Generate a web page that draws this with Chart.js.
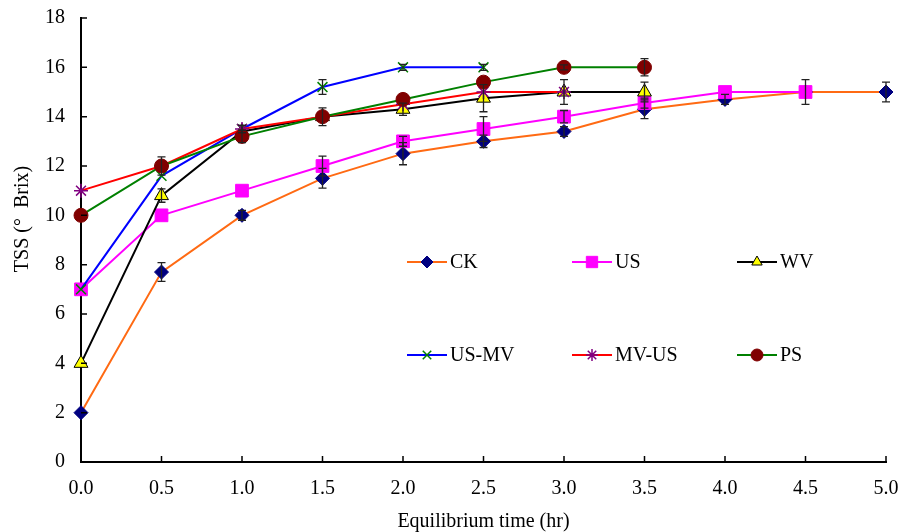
<!DOCTYPE html>
<html>
<head>
<meta charset="utf-8">
<script src="https://cdn.jsdelivr.net/npm/chart.js@4/dist/chart.umd.min.js"></script>
<style>
  body { margin: 0; background: #fff; }
  canvas { display: block; }
</style>
</head>
<body>
<canvas id="tssChart" width="911" height="532"></canvas>
<script>
// Equilibrium time (hr)
const times = [0, 0.5, 1.0, 1.5, 2.0, 2.5, 3.0, 3.5, 4.0, 4.5, 5.0];
const labels = ['CK', 'US', 'WV', 'US-MV', 'MV-US', 'PS'];
const yTitle = 'TSS (°  Brix)';

// TSS values
const ckValues   = [2.0, 7.7, 10.0, 11.5, 12.5, 13.0, 13.4, 14.3, 14.7, 15.0, 15.0];
const usValues   = [7.0, 10.0, 11.0, 12.0, 13.0, 13.5, 14.0, 14.55, 15.0, 15.0];
const wvValues   = [4.0, 10.8, 13.4, 14.0, 14.3, 14.75, 15.0, 15.0];
const usmvValues = [7.0, 11.6, 13.5, 15.2, 16.0, 16.0];
const mvusValues = [11.0, 12.0, 13.5, 14.0, 14.5, 15.0, 15.0];
const psValues   = [10.0, 12.0, 13.2, 14.0, 14.7, 15.4, 16.0, 16.0];

// error bar half-heights (0 = none visible)
const ckErr   = [0, 0.38, 0.2, 0.4, 0.45, 0.25, 0.2, 0.38, 0.2, 0, 0.4];
const usErr   = [0, 0, 0, 0.4, 0.2, 0.5, 0.25, 0.2, 0, 0.5];
const wvErr   = [0, 0.27, 0, 0, 0.25, 0.55, 0.5, 0.4];
const usmvErr = [0, 0, 0.15, 0.3, 0.12, 0.12];
const mvusErr = [0, 0, 0.15, 0, 0, 0, 0];
const psErr   = [0, 0.37, 0.25, 0.36, 0, 0, 0.1, 0.35];

const yTicks = [0, 2, 4, 6, 8, 10, 12, 14, 16, 18];

const serif = 'Liberation Serif';

function points(values) {
    return values.map((v, i) => ({ x: times[i], y: v }));
}

function makeSet(label, values, errs, lineColor, style, fill, border, radius, order) {
    return {
        label: label,
        data: points(values),
        errors: errs,
        borderColor: lineColor,
        borderWidth: 2,
        pointStyle: style,
        pointRadius: radius,
        pointBackgroundColor: fill,
        pointBorderColor: border,
        pointBorderWidth: style === 'crossRot' || style === 'star' ? 1.5 : 1,
        tension: 0,
        fill: false,
        clip: false,
        order: order
    };
}

const datasets = [
    makeSet(labels[0], ckValues, ckErr, '#FF6A13', 'rectRot', '#000080', '#000080', 7, 6),
    makeSet(labels[1], usValues, usErr, '#FF00FF', 'rect', '#FF00FF', '#FF00FF', 9, 5),
    makeSet(labels[2], wvValues, wvErr, '#000000', 'triangle', '#FFFF00', '#000000', 8, 4),
    makeSet(labels[3], usmvValues, usmvErr, '#0000FF', 'crossRot', '#008000', '#008000', 7, 3),
    makeSet(labels[4], mvusValues, mvusErr, '#FF0000', 'star', '#800080', '#800080', 7, 2),
    makeSet(labels[5], psValues, psErr, '#008000', 'circle', '#800000', '#800000', 7, 1)
];

// inward ticks, error bars, y title and the in-plot legend
const extras = {
    id: 'extras',
    afterDatasetsDraw(chart) {
        const ctx = chart.ctx;
        const xs = chart.scales.x;
        const ys = chart.scales.y;
        const area = chart.chartArea;
        ctx.save();

        // error bars
        ctx.strokeStyle = '#222';
        ctx.lineWidth = 1.3;
        chart.data.datasets.forEach(ds => {
            ds.data.forEach((p, i) => {
                const e = ds.errors[i];
                if (!e) return;
                const px = xs.getPixelForValue(p.x);
                const top = ys.getPixelForValue(p.y + e);
                const bot = ys.getPixelForValue(p.y - e);
                ctx.beginPath();
                ctx.moveTo(px, top); ctx.lineTo(px, bot);
                ctx.moveTo(px - 4, top); ctx.lineTo(px + 4, top);
                ctx.moveTo(px - 4, bot); ctx.lineTo(px + 4, bot);
                ctx.stroke();
            });
        });

        // inward tick marks
        ctx.strokeStyle = '#000';
        ctx.lineWidth = 1.5;
        ctx.beginPath();
        yTicks.forEach(v => {
            const py = ys.getPixelForValue(v);
            ctx.moveTo(area.left, py); ctx.lineTo(area.left + 6, py);
        });
        times.forEach(t => {
            if (t === 0) return;
            const px = xs.getPixelForValue(t);
            ctx.moveTo(px, area.bottom); ctx.lineTo(px, area.bottom - 6);
        });
        ctx.stroke();

        // y axis title, sitting a little above the plot's middle
        ctx.fillStyle = '#000';
        ctx.font = '20px "' + serif + '"';
        ctx.textAlign = 'center';
        ctx.textBaseline = 'middle';
        ctx.translate(23, 219);
        ctx.rotate(-Math.PI / 2);
        ctx.fillText(yTitle, 0, 0);
        ctx.setTransform(1, 0, 0, 1, 0, 0);

        // legend, 2 rows x 3 columns inside the plot
        const colX = [407, 572, 737];
        const rowY = [262, 355];
        ctx.font = '20px "' + serif + '"';
        ctx.textAlign = 'left';
        chart.data.datasets.forEach((ds, i) => {
            const x0 = colX[i % 3];
            const y0 = rowY[Math.floor(i / 3)];
            ctx.strokeStyle = ds.borderColor;
            ctx.lineWidth = 2;
            ctx.beginPath();
            ctx.moveTo(x0, y0); ctx.lineTo(x0 + 40, y0);
            ctx.stroke();
            ctx.fillStyle = ds.pointBackgroundColor;
            ctx.strokeStyle = ds.pointBorderColor;
            ctx.lineWidth = ds.pointBorderWidth;
            Chart.helpers.drawPoint(ctx, {
                pointStyle: ds.pointStyle,
                radius: ds.pointStyle === 'rect' ? 8 : 6,
                rotation: 0,
                borderWidth: ds.pointBorderWidth
            }, x0 + 20, y0);
            ctx.fillStyle = '#000';
            ctx.fillText(ds.label, x0 + 43, y0 + 1);
        });
        ctx.restore();
    }
};

new Chart(document.getElementById('tssChart'), {
    type: 'line',
    data: { datasets: datasets },
    options: {
        responsive: false,
        animation: false,
        devicePixelRatio: 1,
        layout: { padding: { top: 18, right: 25, left: 0, bottom: 0 } },
        plugins: {
            legend: { display: false },
            tooltip: { enabled: false }
        },
        scales: {
            x: {
                type: 'linear',
                min: 0,
                max: 5,
                afterFit: s => { s.height = 70; s.paddingRight = 0; s.paddingLeft = 0; },
                grid: { display: false, drawTicks: false },
                border: { display: true, color: '#000', width: 2 },
                ticks: {
                    stepSize: 0.5,
                    padding: 15,
                    color: '#000',
                    font: { family: serif, size: 20 },
                    callback: v => v.toFixed(1)
                },
                title: {
                    display: true,
                    text: 'Equilibrium time (hr)',
                    color: '#000',
                    font: { family: serif, size: 20, lineHeight: 1 },
                    padding: { top: 0, bottom: 0 }
                }
            },
            y: {
                min: 0,
                max: 18,
                afterFit: s => { s.width = 81; s.paddingTop = 0; s.paddingBottom = 0; },
                afterBuildTicks: s => { s.ticks = yTicks.map(v => ({ value: v })); },
                grid: { display: false, drawTicks: false },
                border: { display: true, color: '#000', width: 2 },
                ticks: {
                    padding: 16,
                    color: '#000',
                    font: { family: serif, size: 20 }
                }
            }
        }
    },
    plugins: [extras]
});
</script>
</body>
</html>
